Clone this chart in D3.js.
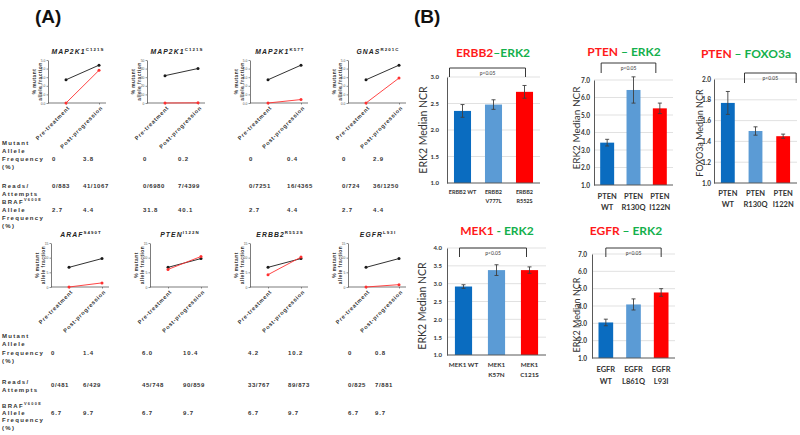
<!DOCTYPE html>
<html><head><meta charset="utf-8">
<script src="https://cdn.jsdelivr.net/npm/d3@7"></script>
<style>body{margin:0;background:#fff}svg{display:block}</style>
</head><body><svg id="c" width="800" height="435"></svg>
<script>
// ---------------- Panel A data ----------------
const timepoints = ["Pre-treatment", "Post-progression"];
const topGenes = ["MAP2K1", "MAP2K1", "MAP2K1", "GNAS"];
const topVariants = ["C121S", "C121S", "K57T", "R201C"];
const topMutantAF = [[0, 3.8], [0, 0.2], [0, 0.4], [0, 2.9]];
const topReads = [["0/883", "41/1067"], ["0/6980", "7/4399"], ["0/7251", "16/4365"], ["0/724", "36/1250"]];
const topBrafAF = [[2.7, 4.4], [31.8, 40.1], [2.7, 4.4], [2.7, 4.4]];
const topYTicks = [[0, 1, 2, 3, 4, 5], [0, 10, 20, 30, 40, 50], [0, 1, 2, 3, 4, 5], [0, 1, 2, 3, 4, 5]];

const botGenes = ["ARAF", "PTEN", "ERBB2", "EGFR"];
const botVariants = ["S490T", "I122N", "R552S", "L93I"];
const botMutantAF = [[0, 1.4], [6.0, 10.4], [4.2, 10.2], [0, 0.8]];
const botReads = [["0/481", "6/429"], ["45/748", "90/859"], ["33/767", "89/873"], ["0/825", "7/881"]];
const botBrafAF = [[6.7, 9.7], [6.7, 9.7], [6.7, 9.7], [6.7, 9.7]];
const botYTicks = [[0, 5, 10, 15], [0, 5, 10, 15], [0, 5, 10, 15], [0, 5, 10, 15]];

// ---------------- Panel B data ----------------
const erbbTitle = ["ERBB2", "–", "ERK2"];
const erbbCats = [["ERBB2 WT"], ["ERBB2", "V777L"], ["ERBB2", "R552S"]];
const erbbVals = [2.36, 2.48, 2.72];
const erbbErr = [0.12, 0.09, 0.12];
const erbbTicks = [1.0, 1.5, 2.0, 2.5, 3.0];

const ptenErkTitle = ["PTEN", " – ", "ERK2"];
const ptenCats = [["PTEN", "WT"], ["PTEN", "R130Q"], ["PTEN", "I122N"]];
const ptenErkVals = [3.42, 6.43, 5.38];
const ptenErkErr = [0.19, 0.75, 0.30];
const ptenErkTicks = [1, 2, 3, 4, 5, 6, 7];

const ptenFoxTitle = ["PTEN", " – ", "FOXO3a"];
const ptenFoxVals = [1.77, 1.50, 1.45];
const ptenFoxErr = [0.11, 0.04, 0.02];
const ptenFoxTicks = [1.0, 1.2, 1.4, 1.6, 1.8, 2.0];

const mekTitle = ["MEK1", " - ", "ERK2"];
const mekCats = [["MEK1 WT"], ["MEK1", "K57N"], ["MEK1", "C121S"]];
const mekVals = [2.92, 3.38, 3.38];
const mekErr = [0.05, 0.15, 0.09];
const mekTicks = [1.0, 1.5, 2.0, 2.5, 3.0, 3.5, 4.0];

const egfrTitle = ["EGFR", " – ", "ERK2"];
const egfrCats = [["EGFR", "WT"], ["EGFR", "L861Q"], ["EGFR", "L93I"]];
const egfrVals = [3.05, 4.09, 4.78];
const egfrErr = [0.19, 0.32, 0.22];
const egfrTicks = [1, 2, 3, 4, 5, 6, 7];

const pLabel = "p<0.05";
const barColors = ["#0a6cc0", "#5b9bd5", "#ff0000"];

// ---------------- drawing ----------------
const svg = d3.select("#c");
const FA = "'Liberation Sans', Arial, sans-serif";
const FB = "Lato, 'Open Sans', sans-serif";

svg.append("text").attr("x", 35).attr("y", 23).attr("font-family", FA).attr("font-weight", "bold")
  .attr("font-size", 19).attr("fill", "#111").text("(A)");
svg.append("text").attr("x", 414).attr("y", 23).attr("font-family", FA).attr("font-weight", "bold")
  .attr("font-size", 19).attr("fill", "#111").text("(B)");

const fmtAF = v => v === 0 ? "0" : d3.format(".1f")(v);

function miniPlot(axisX, yTop, yBot, gene, variant, maf, braf, ticks) {
  const g = svg.append("g");
  const y = d3.scaleLinear().domain([0, d3.max(ticks)]).range([yBot, yTop]);
  const x = d3.scalePoint().domain(timepoints).range([axisX + 18, axisX + 51]);
  const ya = g.append("g").attr("transform", `translate(${axisX},0)`)
    .call(d3.axisLeft(y).tickValues(ticks).tickSize(1.5).tickSizeOuter(0).tickPadding(1));
  ya.select(".domain").attr("stroke", "#444").attr("stroke-width", 0.7);
  ya.selectAll(".tick line").attr("stroke", "#444").attr("stroke-width", 0.6);
  ya.selectAll(".tick text").attr("font-size", 3.4).attr("font-family", FA).attr("fill", "#555");
  g.append("line").attr("x1", axisX).attr("x2", axisX + 58).attr("y1", yBot).attr("y2", yBot)
    .attr("stroke", "#444").attr("stroke-width", 0.7);
  const xa = g.append("g").attr("transform", `translate(0,${yBot})`)
    .call(d3.axisBottom(x).tickSize(1.5).tickSizeOuter(0).tickPadding(2));
  xa.select(".domain").remove();
  xa.selectAll(".tick line").attr("stroke", "#444").attr("stroke-width", 0.6);
  xa.selectAll(".tick text").attr("font-size", 5.6).attr("font-family", FA).attr("font-weight", "bold")
    .attr("letter-spacing", 0.7).attr("fill", "#333")
    .attr("text-anchor", "end").attr("dy", "0.5em").attr("dx", "-0.2em")
    .attr("transform", "rotate(-45)");
  const mid = (yTop + yBot) / 2;
  [["% mutant", -12], ["allele fraction", -6]].forEach(([t, dx]) => {
    g.append("text").attr("transform", `translate(${axisX + dx},${mid}) rotate(-90)`)
      .attr("text-anchor", "middle").attr("font-size", 4.8).attr("font-family", FA).attr("font-weight", "bold")
      .attr("letter-spacing", 0.5).attr("fill", "#333").text(t);
  });
  const t = g.append("text").attr("x", axisX + 30).attr("y", yTop - 6).attr("text-anchor", "middle")
    .attr("font-family", FA).attr("font-weight", "bold").attr("font-style", "italic")
    .attr("font-size", 6.8).attr("letter-spacing", 1.1).attr("fill", "#222");
  t.append("tspan").text(gene);
  t.append("tspan").attr("font-size", 4.4).attr("dy", -3).attr("font-style", "normal").text(variant);
  const line = d3.line().x((d, i) => x(timepoints[i])).y(d => y(d));
  [[braf, "#1a1a1a"], [maf, "#ff3030"]].forEach(([vals, col]) => {
    g.append("path").attr("d", line(vals)).attr("fill", "none").attr("stroke", col).attr("stroke-width", 0.9);
    g.selectAll(null).data(vals).enter().append("circle")
      .attr("cx", (d, i) => x(timepoints[i])).attr("cy", d => y(d)).attr("r", 1.5).attr("fill", col);
  });
}

function tableText(x, y, txt, sup, ls) {
  const t = svg.append("text").attr("x", x).attr("y", y).attr("font-family", FA).attr("font-weight", "bold")
    .attr("font-size", 6).attr("letter-spacing", ls == null ? 1.3 : ls).attr("fill", "#333");
  t.append("tspan").text(txt);
  if (sup) t.append("tspan").attr("font-size", 3.9).attr("dy", -3).text(sup);
}

function table(rows, maf, reads, braf, preX, postX) {
  const [r0, r1, r2, r3, r4, r5, r6, r7, r8, r9, vMaf, vReads, vBraf] = rows;
  tableText(2, r0, "Mutant"); tableText(2, r1, "Allele"); tableText(2, r2, "Frequency"); tableText(2, r3, "(%)");
  tableText(2, r4, "Reads/"); tableText(2, r5, "Attempts");
  tableText(2, r6, "BRAF", "V600E"); tableText(2, r7, "Allele"); tableText(2, r8, "Frequency"); tableText(2, r9, "(%)");
  for (let i = 0; i < 4; i++) {
    tableText(preX[i], vMaf, fmtAF(maf[i][0]), null, 0.9); tableText(postX[i], vMaf, fmtAF(maf[i][1]), null, 0.9);
    tableText(preX[i], vReads, reads[i][0], null, 0.6); tableText(postX[i], vReads, reads[i][1], null, 0.6);
    tableText(preX[i], vBraf, fmtAF(braf[i][0]), null, 0.9); tableText(postX[i], vBraf, fmtAF(braf[i][1]), null, 0.9);
  }
}

const topAxisX = [48, 147, 250, 348];
const botAxisX = [51, 150, 250, 348];
for (let i = 0; i < 4; i++) {
  miniPlot(topAxisX[i], 60, 103, topGenes[i], topVariants[i], topMutantAF[i], topBrafAF[i], topYTicks[i]);
  miniPlot(botAxisX[i], 243, 287, botGenes[i], botVariants[i], botMutantAF[i], botBrafAF[i], botYTicks[i]);
}
table([145, 153, 161, 169, 188, 196, 204, 212, 220, 228, 161, 188, 212],
  topMutantAF, topReads, topBrafAF, [52, 143, 249, 342], [83, 178, 287, 373]);
table([338, 346, 355, 363, 384, 392, 408, 415, 422, 430, 355, 387, 415],
  botMutantAF, botReads, botBrafAF, [51, 142, 248, 348], [83, 183, 288, 375]);

// ---------------- bar charts ----------------
function barChart(o) {
  const g = svg.append("g");
  const catKeys = o.cats.map(c => c.join(" "));
  const x = d3.scaleBand().domain(catKeys).range([o.x0, o.x1]).paddingInner(o.pad).paddingOuter(o.pad / 2);
  const y = d3.scaleLinear().domain(d3.extent(o.ticks)).range([o.yBot, o.yTop]);
  g.selectAll(null).data(o.ticks.slice(1)).enter().append("line")
    .attr("x1", o.x0).attr("x2", o.x1).attr("y1", d => y(d)).attr("y2", d => y(d))
    .attr("stroke", "#d9d9d9").attr("stroke-width", 0.8);
  const ya = g.append("g").attr("transform", `translate(${o.x0},0)`)
    .call(d3.axisLeft(y).tickValues(o.ticks).tickSize(0).tickPadding(o.tickPad).tickFormat(d3.format(".1f")));
  ya.select(".domain").attr("stroke", "#595959").attr("stroke-width", 1);
  ya.selectAll(".tick text").attr("font-family", FB).attr("font-weight", "bold").attr("font-size", o.tickFs).attr("fill", "#333");
  g.selectAll(null).data(o.vals).enter().append("rect")
    .attr("x", (d, i) => x(catKeys[i])).attr("width", x.bandwidth())
    .attr("y", d => y(d)).attr("height", d => y(o.ticks[0]) - y(d))
    .attr("fill", (d, i) => barColors[i]);
  g.append("line").attr("x1", o.x0).attr("x2", o.x1).attr("y1", o.yBot).attr("y2", o.yBot)
    .attr("stroke", "#595959").attr("stroke-width", 1);
  o.vals.forEach((v, i) => {
    const cx = x(catKeys[i]) + x.bandwidth() / 2;
    const e = o.errs[i];
    g.append("line").attr("x1", cx).attr("x2", cx).attr("y1", y(v - e)).attr("y2", y(v + e)).attr("stroke", "#404040").attr("stroke-width", 0.9);
    [v - e, v + e].forEach(w => g.append("line").attr("x1", cx - 2).attr("x2", cx + 2).attr("y1", y(w)).attr("y2", y(w)).attr("stroke", "#404040").attr("stroke-width", 0.9));
  });
  o.cats.forEach((c, i) => {
    const cx = x(catKeys[i]) + x.bandwidth() / 2;
    c.forEach((t, j) => g.append("text").attr("x", cx).attr("y", o.yBot + o.labDy + j * o.labLine)
      .attr("text-anchor", "middle").attr("font-family", FB).attr("font-weight", "bold")
      .attr("font-size", o.labFs).attr("fill", "#333").text(t));
  });
  g.append("text").attr("transform", `translate(${o.ylx},${o.yly}) rotate(-90)`).attr("text-anchor", "middle")
    .attr("font-family", FB).attr("font-size", o.ylFs).attr("fill", "#333").text(o.ylabel);
  const t = g.append("text").attr("x", o.tx).attr("y", o.ty).attr("text-anchor", "middle")
    .attr("font-family", FB).attr("font-weight", "bold").attr("font-size", 12);
  o.title.forEach((s, i) => t.append("tspan").attr("fill", i === 0 ? "#ff1a1a" : "#14b04c").text(s));
  const [a, b, da, db] = o.br;
  const bx0 = x(catKeys[a]) + x.bandwidth() / 2 + da, bx1 = x(catKeys[b]) + x.bandwidth() / 2 + db;
  g.append("path").attr("d", `M${bx0},${o.brBot}V${o.brTop}H${bx1}V${o.brBot}`)
    .attr("fill", "none").attr("stroke", "#222").attr("stroke-width", 0.9);
  g.append("text").attr("x", (bx0 + bx1) / 2).attr("y", o.brTop + 6.5).attr("text-anchor", "middle")
    .attr("font-family", FB).attr("font-size", 5).attr("fill", "#333").text(pLabel);
}

barChart({cats: erbbCats, vals: erbbVals, errs: erbbErr, ticks: erbbTicks, title: erbbTitle,
  x0: 447, x1: 540, yTop: 77, yBot: 183, pad: 0.45, tickPad: 8, tickFs: 6,
  labDy: 11, labLine: 9, labFs: 5.5, ylabel: "ERK2 Median NCR", ylx: 427, yly: 130, ylFs: 10.5,
  tx: 493, ty: 57, br: [0, 2, -13, 1], brTop: 68, brBot: 77});
barChart({cats: ptenCats, vals: ptenErkVals, errs: ptenErkErr, ticks: ptenErkTicks, title: ptenErkTitle,
  x0: 594, x1: 673, yTop: 80, yBot: 185, pad: 0.47, tickPad: 4, tickFs: 6.5,
  labDy: 14, labLine: 11, labFs: 7.5, ylabel: "ERK2 Median NCR", ylx: 580, yly: 128, ylFs: 10,
  tx: 624, ty: 56, br: [0, 2, -6, -4], brTop: 63, brBot: 73});
barChart({cats: ptenCats, vals: ptenFoxVals, errs: ptenFoxErr, ticks: ptenFoxTicks, title: ptenFoxTitle,
  x0: 714, x1: 797, yTop: 79, yBot: 183, pad: 0.5, tickPad: 3, tickFs: 6.5,
  labDy: 13, labLine: 11, labFs: 7.5, ylabel: "FOXO3a Median NCR", ylx: 703, yly: 133, ylFs: 9,
  tx: 746, ty: 58, br: [1, 2, -11, 13], brTop: 73, brBot: 83});
barChart({cats: mekCats, vals: mekVals, errs: mekErr, ticks: mekTicks, title: mekTitle,
  x0: 447, x1: 546, yTop: 248, yBot: 355, pad: 0.48, tickPad: 5, tickFs: 6,
  labDy: 12, labLine: 10, labFs: 6.3, ylabel: "ERK2 Median NCR", ylx: 426, yly: 306, ylFs: 10.5,
  tx: 497, ty: 235, br: [0, 2, -4, -3], brTop: 248, brBot: 257});
barChart({cats: egfrCats, vals: egfrVals, errs: egfrErr, ticks: egfrTicks, title: egfrTitle,
  x0: 592, x1: 675, yTop: 254, yBot: 358, pad: 0.47, tickPad: 5, tickFs: 6.5,
  labDy: 14, labLine: 12, labFs: 7.5, ylabel: "ERK2 Median NCR", ylx: 580, yly: 315, ylFs: 9,
  tx: 626, ty: 235, br: [0, 2, 0, 0], brTop: 248, brBot: 257});
</script>
</body></html>
